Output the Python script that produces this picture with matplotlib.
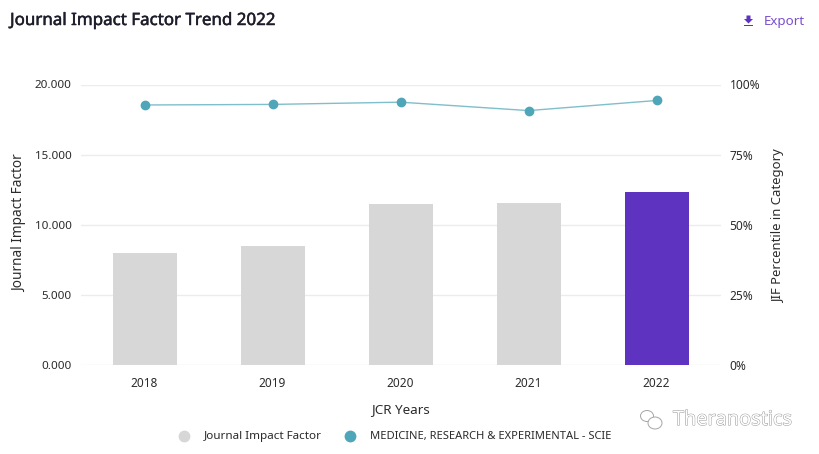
import matplotlib
matplotlib.use("Agg")
import matplotlib.pyplot as plt
import matplotlib.patheffects as pe
from matplotlib.patches import Ellipse, Polygon, Rectangle
from matplotlib.lines import Line2D

years = ["2018", "2019", "2020", "2021", "2022"]
jif = [8.0, 8.5, 11.5, 11.55, 12.3]
percentile = [92.7, 92.9, 93.7, 90.7, 94.3]
jif_ticks = [0, 5, 10, 15, 20]
pct_ticks = [0, 25, 50, 75, 100]
bar_colors = ["#d7d7d7", "#d7d7d7", "#d7d7d7", "#d7d7d7", "#5e33bf"]

W, H = 819, 454
plt.rcParams["font.family"] = ["Noto Sans", "DejaVu Sans"]
TXT = "#2b2b2b"

def fx(x): return x / W
def fy(y): return 1 - y / H

fig = plt.figure(figsize=(W / 100, H / 100), dpi=100, facecolor="white")
ax = fig.add_axes([fx(80.5), fy(365), (720 - 80) / W, (365 - 84.5) / H])
ax.set_xlim(-0.5, 4.5)
ax.set_ylim(0, 20)
ax.set_yticks(jif_ticks)
ax.set_yticklabels([f"{v:.3f}" for v in jif_ticks], fontsize=8.4, color=TXT)
ax.set_xticks(range(len(years)))
ax.set_xticklabels(years, fontsize=8.5, color=TXT)
ax.tick_params(axis="both", length=0)
ax.tick_params(axis="x", pad=8.5)
ax.tick_params(axis="y", pad=6.5)
ax.grid(axis="y", color="#ececec", lw=1)
ax.set_axisbelow(True)
for s in ax.spines.values():
    s.set_visible(False)
ax.bar(range(len(years)), jif, width=0.5, color=bar_colors, zorder=2)

ax2 = ax.twinx()
ax2.set_ylim(0, 100)
ax2.set_yticks(pct_ticks)
ax2.set_yticklabels([f"{v}%" for v in pct_ticks], fontsize=8.6, color=TXT)
ax2.tick_params(axis="y", length=0, pad=6.5)
for s in ax2.spines.values():
    s.set_visible(False)
ax2.plot(range(len(years)), percentile, color="#7fbfcb", lw=1.0, zorder=3)
ax2.plot(range(len(years)), percentile, ls="none", marker="o", ms=7,
         color="#4ea6b8", mec="none", zorder=4)

fig.text(fx(10), fy(21), "Journal Impact Factor Trend 2022", fontsize=12.2,
         color="#1d1d2b", va="center", ha="left",
         path_effects=[pe.withStroke(linewidth=0.35, foreground="#1d1d2b")])
fig.text(fx(764), fy(21), "Export", fontsize=9.6, color="#7a4fd0", va="center", ha="left")
fig.text(fx(20), fy(223), "Journal Impact Factor", fontsize=9.8, color=TXT,
         rotation=90, va="center", ha="center")
fig.text(fx(779), fy(226), "JIF Percentile in Category", fontsize=9.4, color=TXT,
         rotation=90, va="center", ha="center")
fig.text(fx(400), fy(409.5), "JCR Years", fontsize=9.7, color=TXT, va="center", ha="center")

# Export icon
fig.add_artist(Polygon([(fx(746.5), fy(15.5)), (fx(750.5), fy(15.5)), (fx(750.5), fy(19)),
                        (fx(753), fy(19)), (fx(748.5), fy(23.5)), (fx(744), fy(19)),
                        (fx(746.5), fy(19))], closed=True, color="#5e33bf", lw=0))
fig.add_artist(Rectangle((fx(744), fy(26)), 9 / W, 1.3 / H, color="#5e33bf", lw=0))

# Legend
fig.add_artist(Line2D([fx(183.5)], [fy(436)], marker="o", ms=8.5, color="#d7d7d7", mec="none", ls="none"))
fig.text(fx(204), fy(436), "Journal Impact Factor", fontsize=8.4, color=TXT, va="center", ha="left")
fig.add_artist(Line2D([fx(349.5)], [fy(436)], marker="o", ms=8.5, color="#4ea6b8", mec="none", ls="none"))
fig.text(fx(370), fy(436), "MEDICINE, RESEARCH & EXPERIMENTAL - SCIE", fontsize=8.0, color=TXT,
         va="center", ha="left")

# Watermark
fig.text(fx(673), fy(420), "Theranostics", fontsize=14.3, color="white", va="center", ha="left",
         path_effects=[pe.withStroke(linewidth=0.7, foreground="#9a9a9a")])
for (cx, cy, w, h) in [(647, 416, 13, 11), (655, 423, 14, 12)]:
    fig.add_artist(Ellipse((fx(cx), fy(cy)), w / W, h / H, fc="white", ec="#a5a5a5", lw=0.7))

fig.savefig("out.png", dpi=100, facecolor="white")
